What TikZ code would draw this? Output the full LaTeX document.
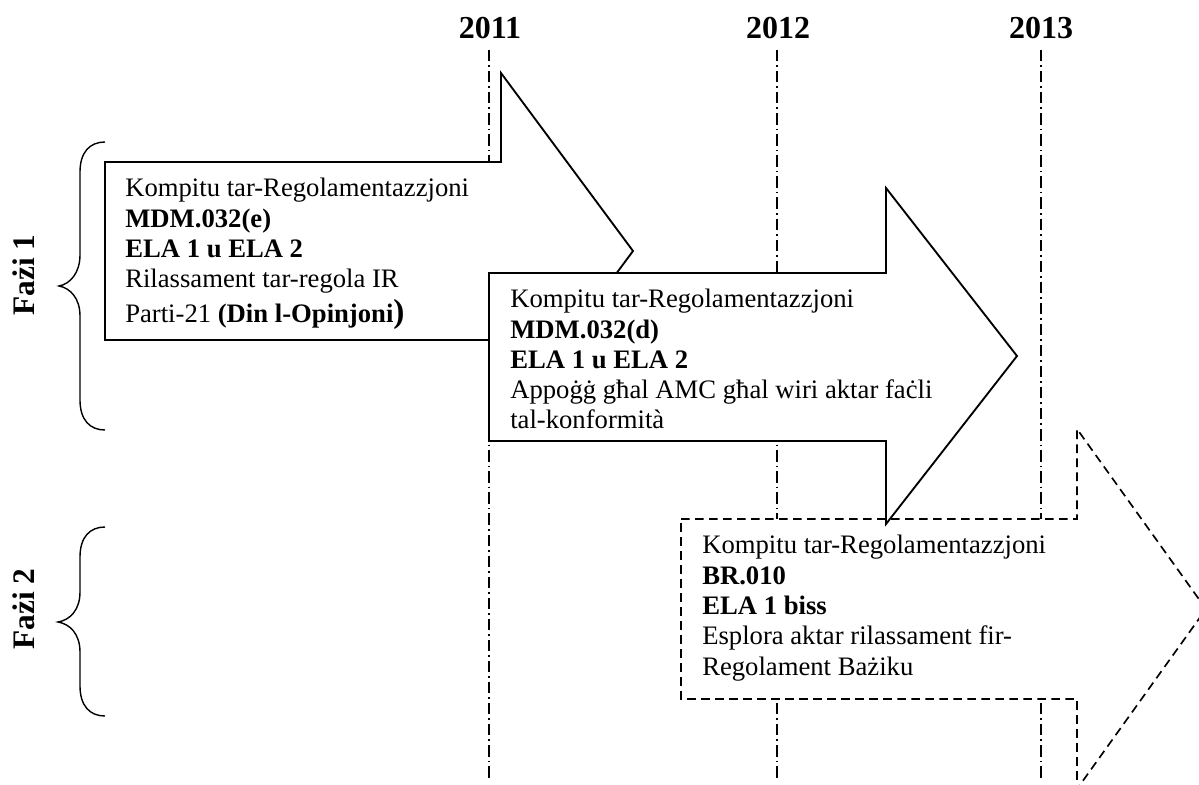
\documentclass[tikz,border=0pt]{standalone}
\usepackage{fontspec}
\setmainfont{Liberation Serif}
\tikzset{
  yearline/.style={line width=1.05pt,dash pattern=on 8.5pt off 3pt on 1.3pt off 3pt},
  solidarrow/.style={draw=black,fill=white,line width=1.4pt,line join=miter,miter limit=10},
  dasharrow/.style={draw=black,fill=white,line width=1.25pt,dash pattern=on 6.5pt off 4pt},
  brace/.style={draw=black,line width=1.05pt},
  yearlabel/.style={font=\fontsize{24}{27}\bfseries\selectfont,inner sep=0pt,anchor=base},
  phaselabel/.style={font=\fontsize{23.5}{27}\bfseries\selectfont,inner sep=0pt,anchor=base,rotate=90},
  bodytext/.style={font=\fontsize{20}{23}\selectfont,inner sep=0pt,anchor=north west,align=left,text depth=0pt},
}
\begin{document}
\begin{tikzpicture}[x=0.75pt,y=-0.75pt]
\useasboundingbox (0,0) rectangle (1199,785);
\clip (0,0) rectangle (1199,785);
\fill[white] (0,0) rectangle (1199,785);
% year labels and their lines
\node[yearlabel] (y2011) at (490,38) {2011};
\node[yearlabel] (y2012) at (778,38) {2012};
\node[yearlabel] (y2013) at (1041,38) {2013};
\coordinate (e2011) at (489,779);
\coordinate (e2012) at (777,779);
\coordinate (e2013) at (1041,779);
\draw[yearline] (489,50) -- (e2011);
\draw[yearline] (777,50) -- (e2012);
\draw[yearline] (1041,50) -- (e2013);
% arrows
\draw[dasharrow] (681,519) -- (1077,519) -- (1077,429) -- (1206,609) -- (1077,789) -- (1077,699) -- (681,699) -- cycle;
\draw[solidarrow] (105,162) -- (501,162) -- (501,73) -- (633,251) -- (501,429) -- (501,340) -- (105,340) -- cycle;
\draw[solidarrow] (489,273) -- (886,273) -- (886,188) -- (1017,356) -- (886,524) -- (886,441) -- (489,441) -- cycle;
% arrow texts
\node[bodytext] (t1) at (125,178) {Kompitu tar-Regolamentazzjoni\\[-0.3pt]
  \textbf{MDM.032(e)}\\[-0.3pt]
  \textbf{ELA 1 u ELA 2}\\[0pt]
  Rilassament tar-regola IR\\[3pt]
  Parti-21 \textbf{(Din l-Opinjoni}{\fontsize{25}{23}\selectfont\textbf{)}}};
\node[bodytext] (t2) at (510,289) {Kompitu tar-Regolamentazzjoni\\[-0.3pt]
  \textbf{MDM.032(d)}\\[-0.3pt]
  \textbf{ELA 1 u ELA 2}\\[0pt]
  Appoġġ għal AMC għal wiri aktar faċli\\[-0.6pt]
  tal-konformità};
\node[bodytext] (t3) at (702,535) {Kompitu tar-Regolamentazzjoni\\[-0.3pt]
  \textbf{BR.010}\\[-0.3pt]
  \textbf{ELA 1 biss}\\[0pt]
  Esplora aktar rilassament fir-\\[-0.3pt]
  Regolament Bażiku};
% braces
\draw[brace] (105,142) .. controls (90,142) and (80,152) .. (80,172) -- (80,255)
  .. controls (80,273) and (70,284) .. (59,286)
  .. controls (70,288) and (80,298) .. (80,316) -- (80,400)
  .. controls (80,420) and (90,430) .. (105,430);
\draw[brace] (105,527) .. controls (90,527) and (80,537) .. (80,557) -- (80,592)
  .. controls (80,610) and (70,620) .. (58,622)
  .. controls (70,624) and (80,634) .. (80,652) -- (80,686)
  .. controls (80,706) and (90,716) .. (105,716);
% phase labels
\node[phaselabel] (p1) at (34,275) {Fażi 1};
\node[phaselabel] (p2) at (34,609) {Fażi 2};
\end{tikzpicture}
\end{document}
